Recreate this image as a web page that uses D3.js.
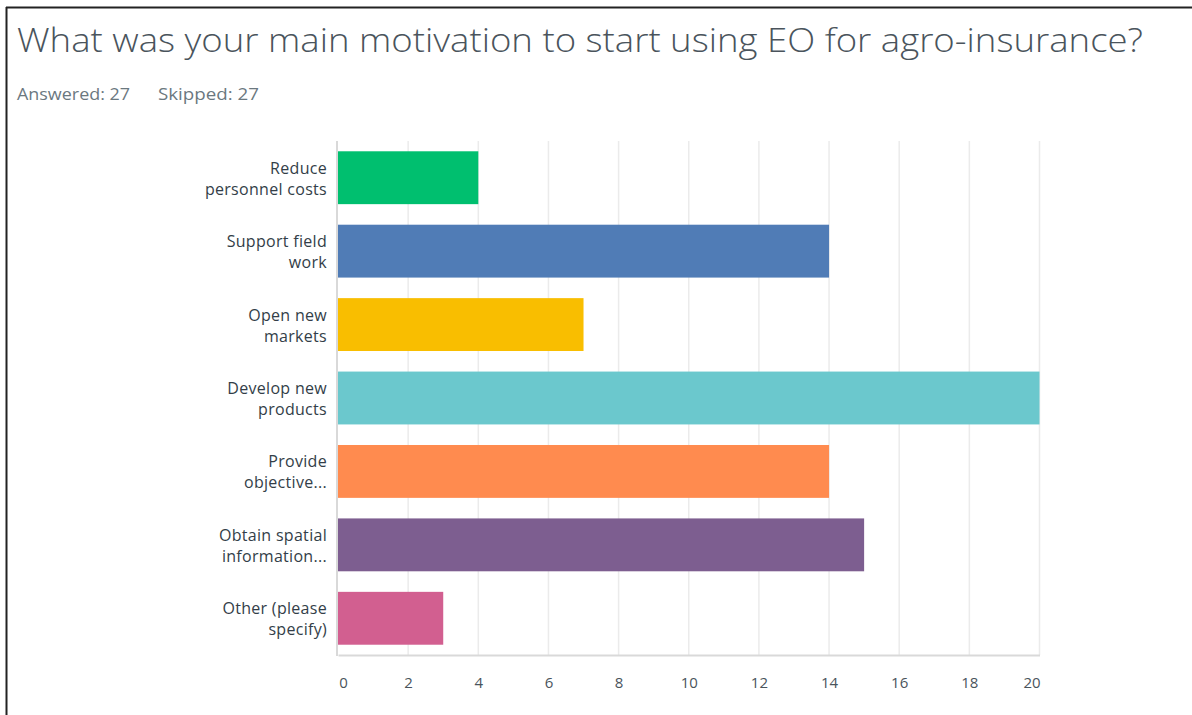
<!DOCTYPE html>
<html><head><meta charset="utf-8">
<script src="https://cdn.jsdelivr.net/npm/d3@7"></script>
<style>body{margin:0;background:#fff;}svg{display:block;}</style>
</head><body>
<script>
const categories = [
  ["Reduce", "personnel costs"],
  ["Support field", "work"],
  ["Open new", "markets"],
  ["Develop new", "products"],
  ["Provide", "objective..."],
  ["Obtain spatial", "information..."],
  ["Other (please", "specify)"]
];
const values = [4, 14, 7, 20, 14, 15, 3];
const colors = ["#00BF6F", "#507CB6", "#F9BE00", "#6BC8CD", "#FF8B4F", "#7D5E90", "#D25F90"];
const ticks = [0, 2, 4, 6, 8, 10, 12, 14, 16, 18, 20];
const title = "What was your main motivation to start using EO for agro-insurance?";
const subtitle = ["Answered: 27", "Skipped: 27"];

const W = 1192, H = 715;
const svg = d3.select("body").append("svg").attr("width", W).attr("height", H);
const font = "'Open Sans', sans-serif";

// frame
svg.append("line").attr("x1", 6.5).attr("x2", 6.5).attr("y1", 7).attr("y2", H).attr("stroke", "#222").attr("stroke-width", 2);
svg.append("line").attr("x1", 6).attr("x2", W).attr("y1", 7.5).attr("y2", 7.5).attr("stroke", "#222").attr("stroke-width", 2);

svg.append("text").attr("x", 17).attr("y", 52).text(title)
  .attr("font-family", font).attr("font-weight", 300).attr("font-size", 33).attr("fill", "#4a545c")
  .attr("textLength", 1126).attr("lengthAdjust", "spacingAndGlyphs");
svg.append("text").attr("x", 17).attr("y", 100).text(subtitle[0])
  .attr("font-family", font).attr("font-size", 16).attr("fill", "#6b787f")
  .attr("textLength", 113).attr("lengthAdjust", "spacingAndGlyphs");
svg.append("text").attr("x", 158).attr("y", 100).text(subtitle[1])
  .attr("font-family", font).attr("font-size", 16).attr("fill", "#6b787f")
  .attr("textLength", 101).attr("lengthAdjust", "spacingAndGlyphs");

const x = d3.scaleLinear().domain([0, 20]).range([338, 1039.5]);
const y = d3.scaleBand().domain(d3.range(categories.length)).range([141, 655]).paddingInner(0.28).paddingOuter(0.14);

// gridlines
svg.append("g").selectAll("line").data(ticks.slice(1)).join("line")
  .attr("x1", d => x(d)).attr("x2", d => x(d)).attr("y1", 141).attr("y2", 655)
  .attr("stroke", "#ebebeb").attr("stroke-width", 1.5);

// axis
const ax = svg.append("g").attr("transform", "translate(0,655)")
  .call(d3.axisBottom(x).tickValues(ticks).tickSize(0).tickPadding(22));
ax.select(".domain").attr("stroke", "#d9d9d9").attr("stroke-width", 2);
ax.selectAll("text").attr("font-family", font).attr("font-size", 15).attr("fill", "#4a545c")
  .attr("dx", d => d === ticks[0] ? 5 : (d === ticks[ticks.length - 1] ? -8 : 0));
svg.append("line").attr("x1", 337).attr("x2", 337).attr("y1", 141).attr("y2", 656).attr("stroke", "#d9d9d9").attr("stroke-width", 2);

// bars
svg.append("g").selectAll("rect").data(values).join("rect")
  .attr("x", x(0)).attr("y", (d, i) => y(i)).attr("width", d => x(d) - x(0)).attr("height", y.bandwidth())
  .attr("fill", (d, i) => colors[i]);

// labels
const lab = svg.append("g").selectAll("text").data(categories).join("text")
  .attr("text-anchor", "end").attr("font-family", font).attr("font-size", 16).attr("fill", "#333e48")
  .attr("letter-spacing", 0.3);
lab.each(function(d, i) {
  const t = d3.select(this);
  const cy = y(i) + y.bandwidth() / 2;
  t.append("tspan").attr("x", 327).attr("y", cy - 4).text(d[0]);
  t.append("tspan").attr("x", 327).attr("y", cy + 17).text(d[1]);
});
</script>
</body></html>
